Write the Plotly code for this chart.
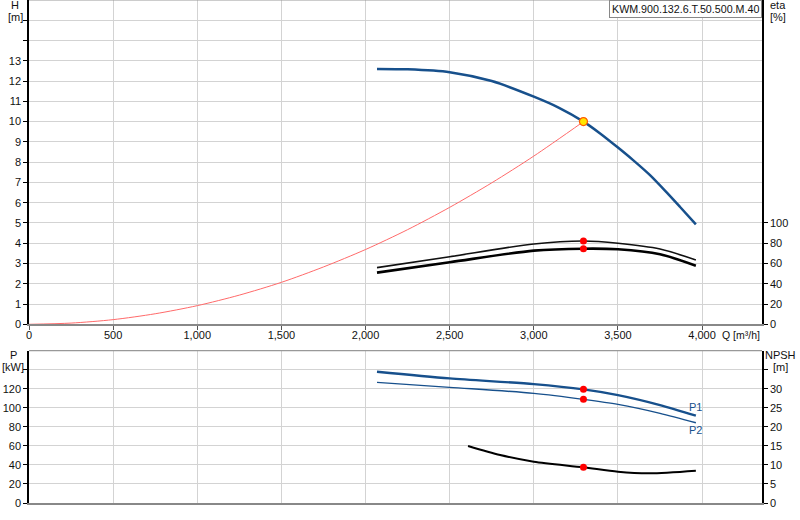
import plotly.graph_objects as go

# ---------------- data ----------------
q_h = [2068, 2250, 2500, 2750, 3000, 3150, 3295, 3392, 3500, 3590, 3689, 3788, 3868, 3963]
h_vals = [12.60, 12.58, 12.44, 12.00, 11.23, 10.68, 10.00, 9.43, 8.72, 8.10, 7.37, 6.52, 5.80, 4.93]

q_sys = [0, 250, 500, 750, 1000, 1250, 1500, 1750, 2000, 2250, 2500, 2750, 3000, 3295]
h_sys = [0, 0.06, 0.23, 0.52, 0.92, 1.44, 2.07, 2.83, 3.69, 4.67, 5.77, 6.98, 8.30, 10.0]

q_eta = [2068, 2500, 3000, 3295, 3500, 3750, 3963]
eta_1 = [55.9, 66.7, 79.3, 82.2, 80.0, 74.3, 63.5]
eta_2 = [51.0, 61.2, 72.7, 74.6, 74.0, 69.1, 57.8]

q_p = [2068, 2500, 3000, 3295, 3500, 3750, 3963]
p1_vals = [137.9, 130.9, 124.9, 119.4, 113.4, 102.9, 91.7]
p2_vals = [126.7, 121.5, 115.2, 108.9, 103.6, 94.2, 84.3]

q_npsh = [2609, 2800, 3000, 3295, 3500, 3690, 3963]
npsh_vals = [14.96, 12.6, 10.85, 9.37, 8.2, 7.8, 8.5]

q_op = 3295
h_op = 10.0
eta1_op = 82.2
eta2_op = 74.6
p1_op = 119.4
p2_op = 108.9
npsh_op = 9.37

x_ticks = [0, 500, 1000, 1500, 2000, 2500, 3000, 3500, 4000]
h_ticks = list(range(0, 16))
eta_ticks = [0, 20, 40, 60, 80, 100]
p_ticks = [0, 20, 40, 60, 80, 100, 120, 140]
npsh_ticks = [0, 5, 10, 15, 20, 25, 30, 35]
title_text = "KWM.900.132.6.T.50.500.M.40"

# ---------------- styling ----------------
BLUE = "#17508c"
GRID = "#d3d3d3"
FONT = "Liberation Sans, Arial, sans-serif"
W, H = 800, 520
ML, MR, MT, MB = 29, 38, 0, 17
PW, PH = W - ML - MR, H - MT - MB

def px(xp):
    return (xp - ML) / PW

def py(yp):
    return (H - MB - yp) / PH

top_lo = py(324.3)
bot_hi = py(350.7)

fig = go.Figure()

# system curve
fig.add_trace(go.Scatter(x=q_sys, y=h_sys, mode="lines", line=dict(color="#ff6a6a", width=1, shape="spline", smoothing=0.8),
                         xaxis="x", yaxis="y", hoverinfo="skip"))
# H curve
fig.add_trace(go.Scatter(x=q_h, y=h_vals, mode="lines", line=dict(color=BLUE, width=2.5, shape="spline", smoothing=0.7),
                         xaxis="x", yaxis="y"))
# efficiency
fig.add_trace(go.Scatter(x=q_eta, y=eta_1, mode="lines", line=dict(color="#111111", width=1.6, shape="spline", smoothing=0.8),
                         xaxis="x", yaxis="y2"))
fig.add_trace(go.Scatter(x=q_eta, y=eta_2, mode="lines", line=dict(color="#000000", width=2.6, shape="spline", smoothing=0.8),
                         xaxis="x", yaxis="y2"))
fig.add_trace(go.Scatter(x=[q_op, q_op], y=[eta1_op, eta2_op], mode="markers",
                         marker=dict(color="#ff0000", size=7), xaxis="x", yaxis="y2"))
fig.add_trace(go.Scatter(x=[q_op], y=[h_op], mode="markers",
                         marker=dict(color="#ffe600", size=8, line=dict(color="#ff5a00", width=1.2)),
                         xaxis="x", yaxis="y"))

# power
fig.add_trace(go.Scatter(x=q_p, y=p1_vals, mode="lines", line=dict(color=BLUE, width=2.4, shape="spline", smoothing=0.8),
                         xaxis="x2", yaxis="y3"))
fig.add_trace(go.Scatter(x=q_p, y=p2_vals, mode="lines", line=dict(color=BLUE, width=1.4, shape="spline", smoothing=0.8),
                         xaxis="x2", yaxis="y3"))
fig.add_trace(go.Scatter(x=[q_op, q_op], y=[p1_op, p2_op], mode="markers",
                         marker=dict(color="#ff0000", size=7), xaxis="x2", yaxis="y3"))
# npsh
fig.add_trace(go.Scatter(x=q_npsh, y=npsh_vals, mode="lines", line=dict(color="#000000", width=2, shape="spline", smoothing=0.8),
                         xaxis="x2", yaxis="y4"))
fig.add_trace(go.Scatter(x=[q_op], y=[npsh_op], mode="markers",
                         marker=dict(color="#ff0000", size=7), xaxis="x2", yaxis="y4"))

tickfont = dict(family=FONT, size=11, color="#111")
xrange = [0, 4356]

fig.update_layout(
    width=W, height=H, showlegend=False,
    paper_bgcolor="white", plot_bgcolor="white",
    margin=dict(l=ML, r=MR, t=MT, b=MB, pad=0),
    font=dict(family=FONT, size=11, color="#111"),
    xaxis=dict(domain=[0, 1], anchor="y", range=xrange, tickvals=x_ticks, tickformat=",",
               showgrid=True, gridcolor=GRID, gridwidth=1, zeroline=False,
               showline=True, linecolor="#888888", linewidth=2,
               ticks="outside", ticklen=4, tickcolor="#555", tickfont=tickfont,
               ticklabelstandoff=-5),
    yaxis=dict(domain=[top_lo, 1], anchor="x", range=[0, 16], tickvals=h_ticks,
               ticktext=[str(v) if v <= 13 else "" for v in h_ticks],
               showgrid=True, gridcolor=GRID, gridwidth=1, zeroline=False,
               showline=True, linecolor="#000", linewidth=1.5,
               ticks="outside", ticklen=4, tickcolor="#000", tickfont=tickfont),
    yaxis2=dict(overlaying="y", side="right", anchor="x", range=[0, 320], tickvals=eta_ticks,
                showgrid=False, zeroline=False, showline=True, linecolor="#000", linewidth=1.5,
                ticks="outside", ticklen=4, tickcolor="#000", tickfont=tickfont),
    xaxis2=dict(domain=[0, 1], anchor="y3", range=xrange, tickvals=x_ticks, showticklabels=False,
                showgrid=True, gridcolor=GRID, gridwidth=1, zeroline=False,
                showline=True, linecolor="#888888", linewidth=1.5, ticks=""),
    yaxis3=dict(domain=[0, bot_hi], anchor="x2", range=[0, 160], tickvals=p_ticks,
                ticktext=[str(v) if v <= 120 else "" for v in p_ticks],
                showgrid=True, gridcolor=GRID, gridwidth=1, zeroline=False,
                showline=True, linecolor="#000", linewidth=1.5,
                ticks="outside", ticklen=4, tickcolor="#000", tickfont=tickfont),
    yaxis4=dict(overlaying="y3", side="right", anchor="x2", range=[0, 40], tickvals=npsh_ticks,
                ticktext=[str(v) if v <= 30 else "" for v in npsh_ticks],
                showgrid=False, zeroline=False, showline=True, linecolor="#000", linewidth=1.5,
                ticks="outside", ticklen=4, tickcolor="#000", tickfont=tickfont),
)

shapes = [
    dict(type="line", xref="paper", yref="paper", x0=0, x1=1, y0=1, y1=1, line=dict(color="#999", width=1.2)),
    dict(type="line", xref="paper", yref="paper", x0=0, x1=1, y0=bot_hi, y1=bot_hi, line=dict(color="#999", width=1.2)),
]
fig.update_layout(shapes=shapes)

def ann(text, xp, yp, xanchor="center", size=11, color="#111", **kw):
    fig.add_annotation(text=text, x=px(xp), y=py(yp), xref="paper", yref="paper",
                       showarrow=False, xanchor=xanchor, yanchor="middle",
                       font=dict(family=FONT, size=size, color=color), **kw)

ann("H", 15, 5)
ann("[m]", 15, 17)
ann("eta", 768, 5, xanchor="left")
ann("[%]", 768, 17, xanchor="left")
ann("Q [m³/h]", 720, 334.5, xanchor="left", size=10.5)
ann("P", 13, 355)
ann("[kW]", 13, 367)
ann("NPSH", 780, 355)
ann("[m]", 780, 367)
ann("P1", 695, 406.5, color=BLUE)
ann("P2", 695, 429.5, color=BLUE)
fig.add_annotation(text=title_text, x=px(762), y=py(0.5), xref="paper", yref="paper",
                   showarrow=False, xanchor="right", yanchor="top",
                   font=dict(family=FONT, size=10.7, color="#111"),
                   bordercolor="#888", borderwidth=1, borderpad=2, bgcolor="white")

fig.write_html("out.html", config={"displayModeBar": False},
               post_script="document.body.style.margin='0px';document.body.style.overflow='hidden';")
